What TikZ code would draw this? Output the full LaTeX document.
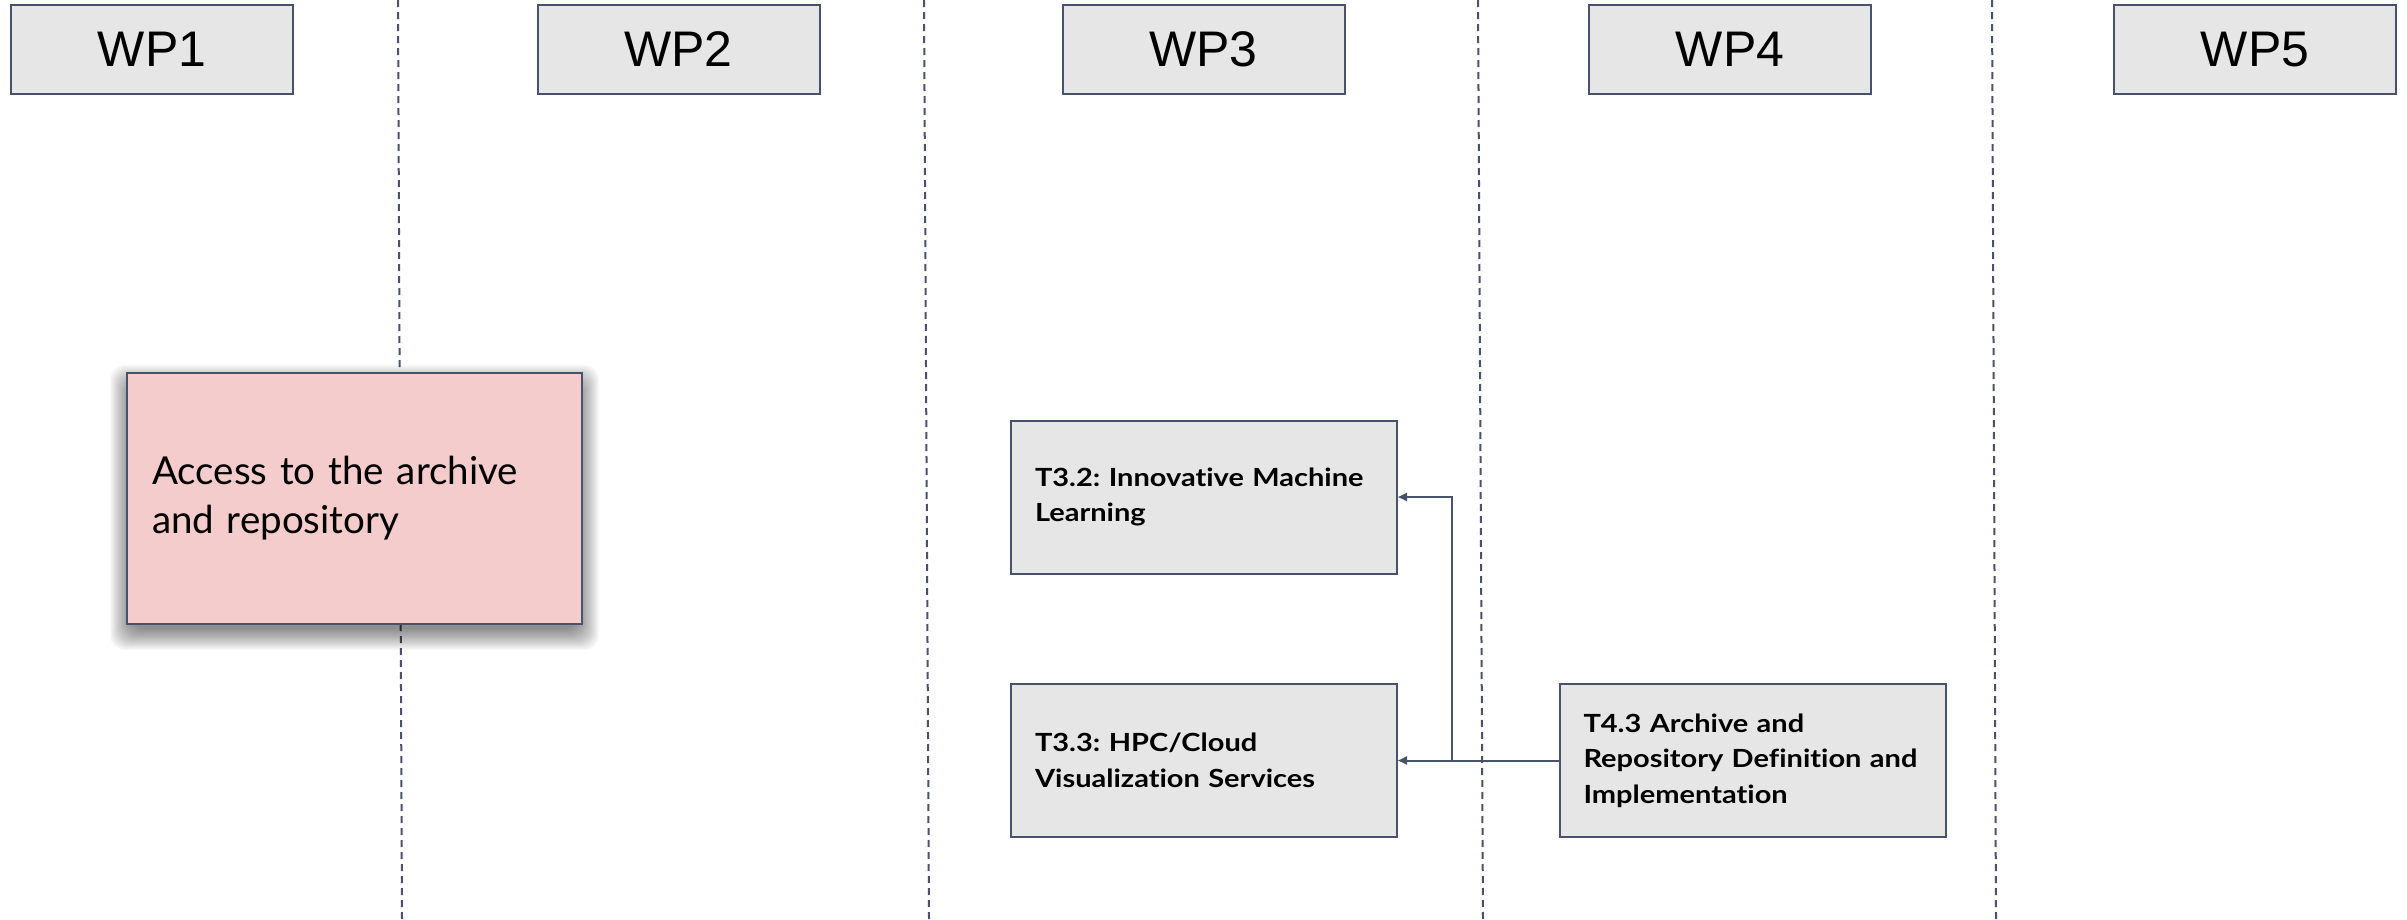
\documentclass[tikz,border=0pt]{standalone}
\usepackage{fontspec}
\setmainfont{Lato}[Ligatures=NoCommon]
\newfontfamily\wpfont{Liberation Sans}
\newfontfamily\taskfont{Lato}[Ligatures=NoCommon, FakeStretch=1.16]
\usetikzlibrary{arrows.meta}
\definecolor{edge}{HTML}{46536A}
\definecolor{boxgray}{HTML}{E6E6E6}
\definecolor{pinkfill}{HTML}{F4CCCC}
\tikzset{
  wpbox/.style={draw=edge, line width=2pt, fill=boxgray, minimum width=282pt, minimum height=89pt, inner sep=0pt,
    font=\wpfont\fontsize{50}{60}\selectfont},
  taskbox/.style={draw=edge, line width=2pt, fill=boxgray, minimum width=386pt, minimum height=153pt,
    inner xsep=24pt, text width=338pt, align=left, font=\taskfont\bfseries\fontsize{25}{35.7}\selectfont},
  accbox/.style={draw=edge, line width=2pt, fill=pinkfill, minimum width=455pt, minimum height=251pt,
    inner xsep=25pt, text width=405pt, align=left, font=\fontsize{38.5}{49}\selectfont},
  shadowlayer/.style={fill=black, fill opacity=0.022, rounded corners=14pt},
  sep/.style={draw=edge, line width=2pt, dash pattern=on 7pt off 5pt},
  conn/.style={draw=edge, line width=2pt, -{Triangle[length=9pt,width=8pt]}}
}
\begin{document}
\frenchspacing
\begin{tikzpicture}[x=1pt,y=-1pt]
\useasboundingbox (0,0) rectangle (2407,919);
\fill[white] (0,0) rectangle (2407,919);
% separators
\coordinate (s1t) at (398,0); \coordinate (s1b) at (402,919);
\coordinate (s2t) at (924,0); \coordinate (s2b) at (929,919);
\coordinate (s3t) at (1478,0); \coordinate (s3b) at (1483,919);
\coordinate (s4t) at (1992,0); \coordinate (s4b) at (1996,919);
\draw[sep] (s1t) -- (s1b);
\draw[sep] (s2t) -- (s2b);
\draw[sep] (s3t) -- (s3b);
\draw[sep] (s4t) -- (s4b);
% WP headers
\node[wpbox] (wp1) at (152,49.5) {WP1};
\node[wpbox] (wp2) at (678.5,49.5) {WP2};
\node[wpbox] (wp3) at (1203.5,49.5) {WP3};
\node[wpbox] (wp4) at (1730,49.5) {WP4};
\node[wpbox] (wp5) at (2255,49.5) {WP5};
% soft shadow of the access box
\foreach \e in {0,1,...,21}{
  \fill[shadowlayer] (127-\e+4, 373+9-\e+4) rectangle (582+\e-4, 624+9+\e-4);
}
% access box
\node[accbox] (acc) at (354.5,498.5) {Access to the archive\\and repository};
% task boxes
\node[taskbox] (t32) at (1204,497) {T3.2: Innovative Machine\\Learning};
\node[taskbox] (t33) at (1204,760.5) {T3.3: HPC/Cloud\\Visualization Services};
\node[taskbox] (t43) at (1752.5,760.5) {T4.3 Archive and\\Repository Definition and\\Implementation};
% connectors
\coordinate (br) at (1452,760.5);
\draw[conn] (t43.west) -- (t33.east);
\draw[conn] (br) |- (t32.east);
\end{tikzpicture}
\end{document}
